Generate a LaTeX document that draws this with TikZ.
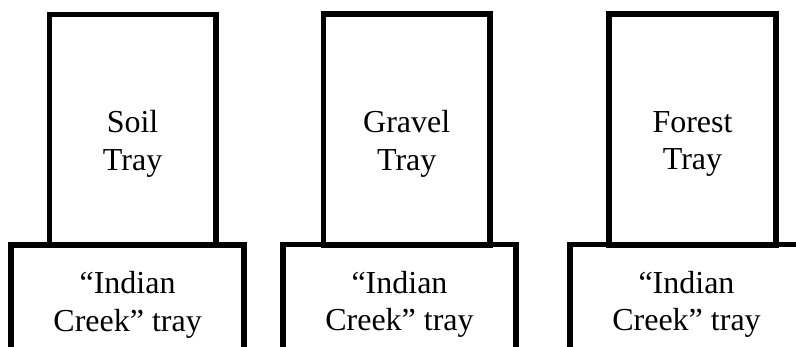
\documentclass[tikz,border=0pt]{standalone}
\usepackage{fontspec}
\setmainfont{Liberation Serif}
\usepackage{tikz}
\tikzstyle{tray} = [rectangle, minimum width=166.5pt, minimum height=230.5pt, draw=black, line width=5.6pt]
\tikzstyle{base} = [rectangle, minimum width=233pt, minimum height=120pt, draw=black, line width=5.6pt, text centered, align=center, font=\fontsize{32}{37.5}\selectfont]
\tikzstyle{traytext} = [align=center, font=\fontsize{32}{37.5}\selectfont]

\begin{document}
\begin{tikzpicture}[x=1pt, y=-1pt]

    \useasboundingbox (0,0) rectangle (796,347);
    \clip (0,0) rectangle (796,347);

    % Trays
    \node (soil) [tray] at (132.6,129.75) {};
    \node (gravel) [tray] at (406.75,129.5) {};
    \node (forest) [tray] at (692.5,129.5) {};

    \node (soiltext) [traytext] at (132.6,144) {Soil\\Tray};
    \node (graveltext) [traytext] at (406.75,144) {Gravel\\Tray};
    \node (foresttext) [traytext] at (692.5,144) {Forest\\Tray};

    % Indian Creek trays
    \node (creeka) [base] at (127.6,305) {“Indian\\Creek” tray};
    \node (creekb) [base] at (399.5,304.5) {“Indian\\Creek” tray};
    \node (creekc) [base] at (686.5,304.5) {“Indian\\Creek” tray};

\end{tikzpicture}
\end{document}
